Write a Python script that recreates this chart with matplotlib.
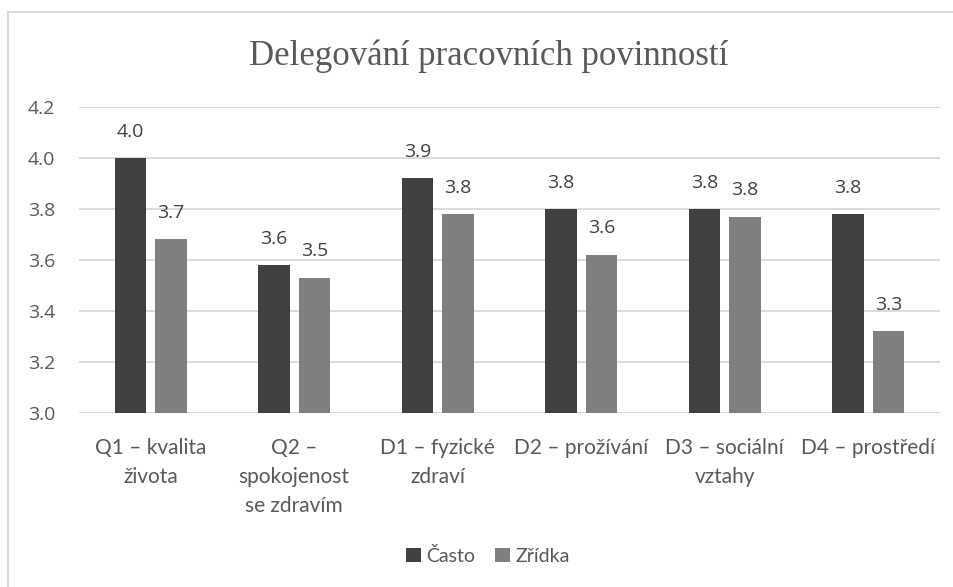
"""Grouped bar chart: Delegování pracovních povinností (Často v. Zřídka)."""
import matplotlib.pyplot as plt
from matplotlib.lines import Line2D
import numpy as np

# data begin
categories = [
    "Q1 – kvalita\nživota",
    "Q2 –\nspokojenost\nse zdravím",
    "D1 – fyzické\nzdraví",
    "D2 – prožívání",
    "D3 – sociální\nvztahy",
    "D4 – prostředí",
]
casto = [4.00, 3.58, 3.92, 3.80, 3.80, 3.78]
zridka = [3.68, 3.53, 3.78, 3.62, 3.77, 3.32]
series_names = ["Často", "Zřídka"]
y_ticks = [3.0, 3.2, 3.4, 3.6, 3.8, 4.0, 4.2]
# data end

title = "Delegování pracovních povinností"
col_dark = "#404040"
col_light = "#7f7f7f"
col_text = "#595959"
col_grid = "#d9d9d9"
num_font = ["Open Sans", "DejaVu Sans"]
cat_font = ["Liberation Sans Narrow", "Lato", "DejaVu Sans"]


def main():
    W, H = 954, 587
    fig = plt.figure(figsize=(W / 100, H / 100), dpi=100)

    # chart area border (left and top visible, rest cropped)
    fig.add_artist(Line2D([8.5 / W, 8.5 / W], [0, 1 - 11.5 / H], color=col_grid,
                          lw=1.3, transform=fig.transFigure))
    fig.add_artist(Line2D([8.5 / W, 1], [1 - 11.5 / H, 1 - 11.5 / H], color=col_grid,
                          lw=1.3, transform=fig.transFigure))

    ax = fig.add_axes([79 / W, 1 - 412.7 / H, (940 - 79) / W, (412.7 - 107) / H])

    x = np.arange(len(categories))
    bw = 0.221
    off = 0.142
    b1 = ax.bar(x - off, casto, bw, color=col_dark, zorder=3, label=series_names[0])
    b2 = ax.bar(x + off, zridka, bw, color=col_light, zorder=3, label=series_names[1])

    for bars, vals in ((b1, casto), (b2, zridka)):
        for rect, v in zip(bars, vals):
            ax.annotate(f"{v:.1f}", (rect.get_x() + rect.get_width() / 2, v),
                        xytext=(0, 19), textcoords="offset points",
                        ha="center", va="center", fontsize=14,
                        color=col_dark, family=num_font)

    ax.set_ylim(3.0, 4.2)
    ax.set_xlim(-0.5, len(categories) - 0.5)
    ax.set_yticks(y_ticks)
    ax.set_yticklabels([f"{t:.1f}" for t in y_ticks], family=num_font,
                       fontsize=14, color=col_text)
    ax.set_xticks(x)
    ax.set_xticklabels(categories, family=cat_font, fontsize=15,
                       color=col_text, linespacing=1.57, va="top")
    ax.tick_params(axis="y", length=0, pad=17)
    ax.tick_params(axis="x", length=0, pad=18)

    for s in ax.spines.values():
        s.set_visible(False)
    ax.yaxis.grid(True, color=col_grid, lw=1.3, zorder=0)
    ax.set_axisbelow(True)

    fig.text(489 / W, 1 - 65 / H, title, ha="center", va="baseline",
             fontsize=25, family=["Liberation Serif", "DejaVu Serif"],
             color=col_text)

    fig.legend(handles=[b1, b2], labels=series_names, loc="center",
               bbox_to_anchor=(488 / W, 1 - 556 / H), ncol=2, frameon=False,
               prop={"family": cat_font, "size": 14}, labelcolor=col_text,
               handlelength=0.75, handleheight=0.75, handletextpad=0.3,
               columnspacing=1.0)

    fig.savefig("out.png", dpi=100)


if __name__ == "__main__":
    main()
